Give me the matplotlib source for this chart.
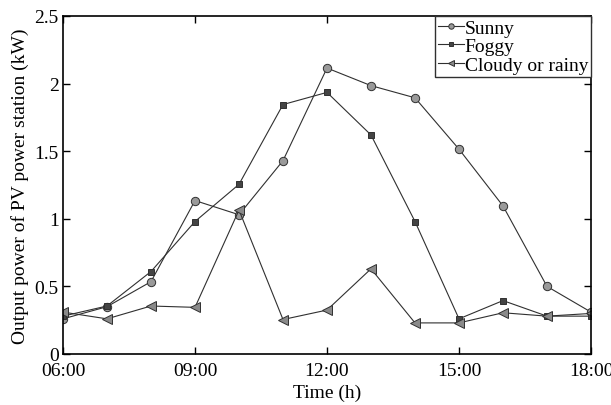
import matplotlib
matplotlib.use("Agg")
import matplotlib.pyplot as plt

plt.rcParams['font.family'] = ['Liberation Serif', 'DejaVu Serif']
plt.rcParams['font.size'] = 14

hours = [6, 7, 8, 9, 10, 11, 12, 13, 14, 15, 16, 17, 18]
sunny = [0.26, 0.35, 0.535, 1.135, 1.03, 1.43, 2.115, 1.985, 1.895, 1.515, 1.095, 0.50, 0.31]
foggy = [0.28, 0.355, 0.61, 0.98, 1.255, 1.845, 1.935, 1.62, 0.98, 0.26, 0.395, 0.28, 0.28]
cloudy = [0.31, 0.26, 0.355, 0.345, 1.065, 0.255, 0.325, 0.63, 0.23, 0.23, 0.305, 0.28, 0.30]

xticks = [6, 9, 12, 15, 18]
xticklabels = ['06:00', '09:00', '12:00', '15:00', '18:00']
yticks = [0, 0.5, 1, 1.5, 2, 2.5]
yticklabels = ['0', '0.5', '1', '1.5', '2', '2.5']

line_col = '#303030'

fig = plt.figure(figsize=(6.11, 4.06), dpi=100)
ax = fig.add_axes([63 / 611, 51 / 406, 528 / 611, 338 / 406])

ax.plot(hours, sunny, '-o', color=line_col, lw=0.8, ms=6,
        mfc='#9a9a9a', mec='#303030', mew=0.7, label='Sunny')
ax.plot(hours, foggy, '-s', color=line_col, lw=0.8, ms=4.5,
        mfc='#444444', mec='#303030', mew=0.7, label='Foggy')
ax.plot(hours, cloudy, '-<', color=line_col, lw=0.8, ms=6.5,
        mfc='#8a8a8a', mec='#303030', mew=0.7, label='Cloudy or rainy')

ax.set_xlim(6, 18)
ax.set_ylim(0, 2.5)
ax.set_xticks(xticks)
ax.set_xticklabels(xticklabels)
ax.set_yticks(yticks)
ax.set_yticklabels(yticklabels)
ax.tick_params(direction='in', top=True, right=True, length=5, width=1,
               labelsize=14)
ax.tick_params(axis='x', pad=6)
ax.tick_params(axis='y', pad=3)
for s in ax.spines.values():
    s.set_linewidth(1.2)

ax.set_xlabel('Time (h)', labelpad=3)
ax.set_ylabel('Output power of PV power station (kW)', labelpad=4)

leg = ax.legend(loc='upper right', handlelength=1.3, handletextpad=0.05,
                borderpad=0.15, labelspacing=0.05, borderaxespad=0.0,
                markerscale=0.65, fancybox=False, framealpha=1)
leg.get_frame().set_edgecolor('#303030')
leg.get_frame().set_linewidth(1.0)

plt.savefig('out.png', dpi=100)
